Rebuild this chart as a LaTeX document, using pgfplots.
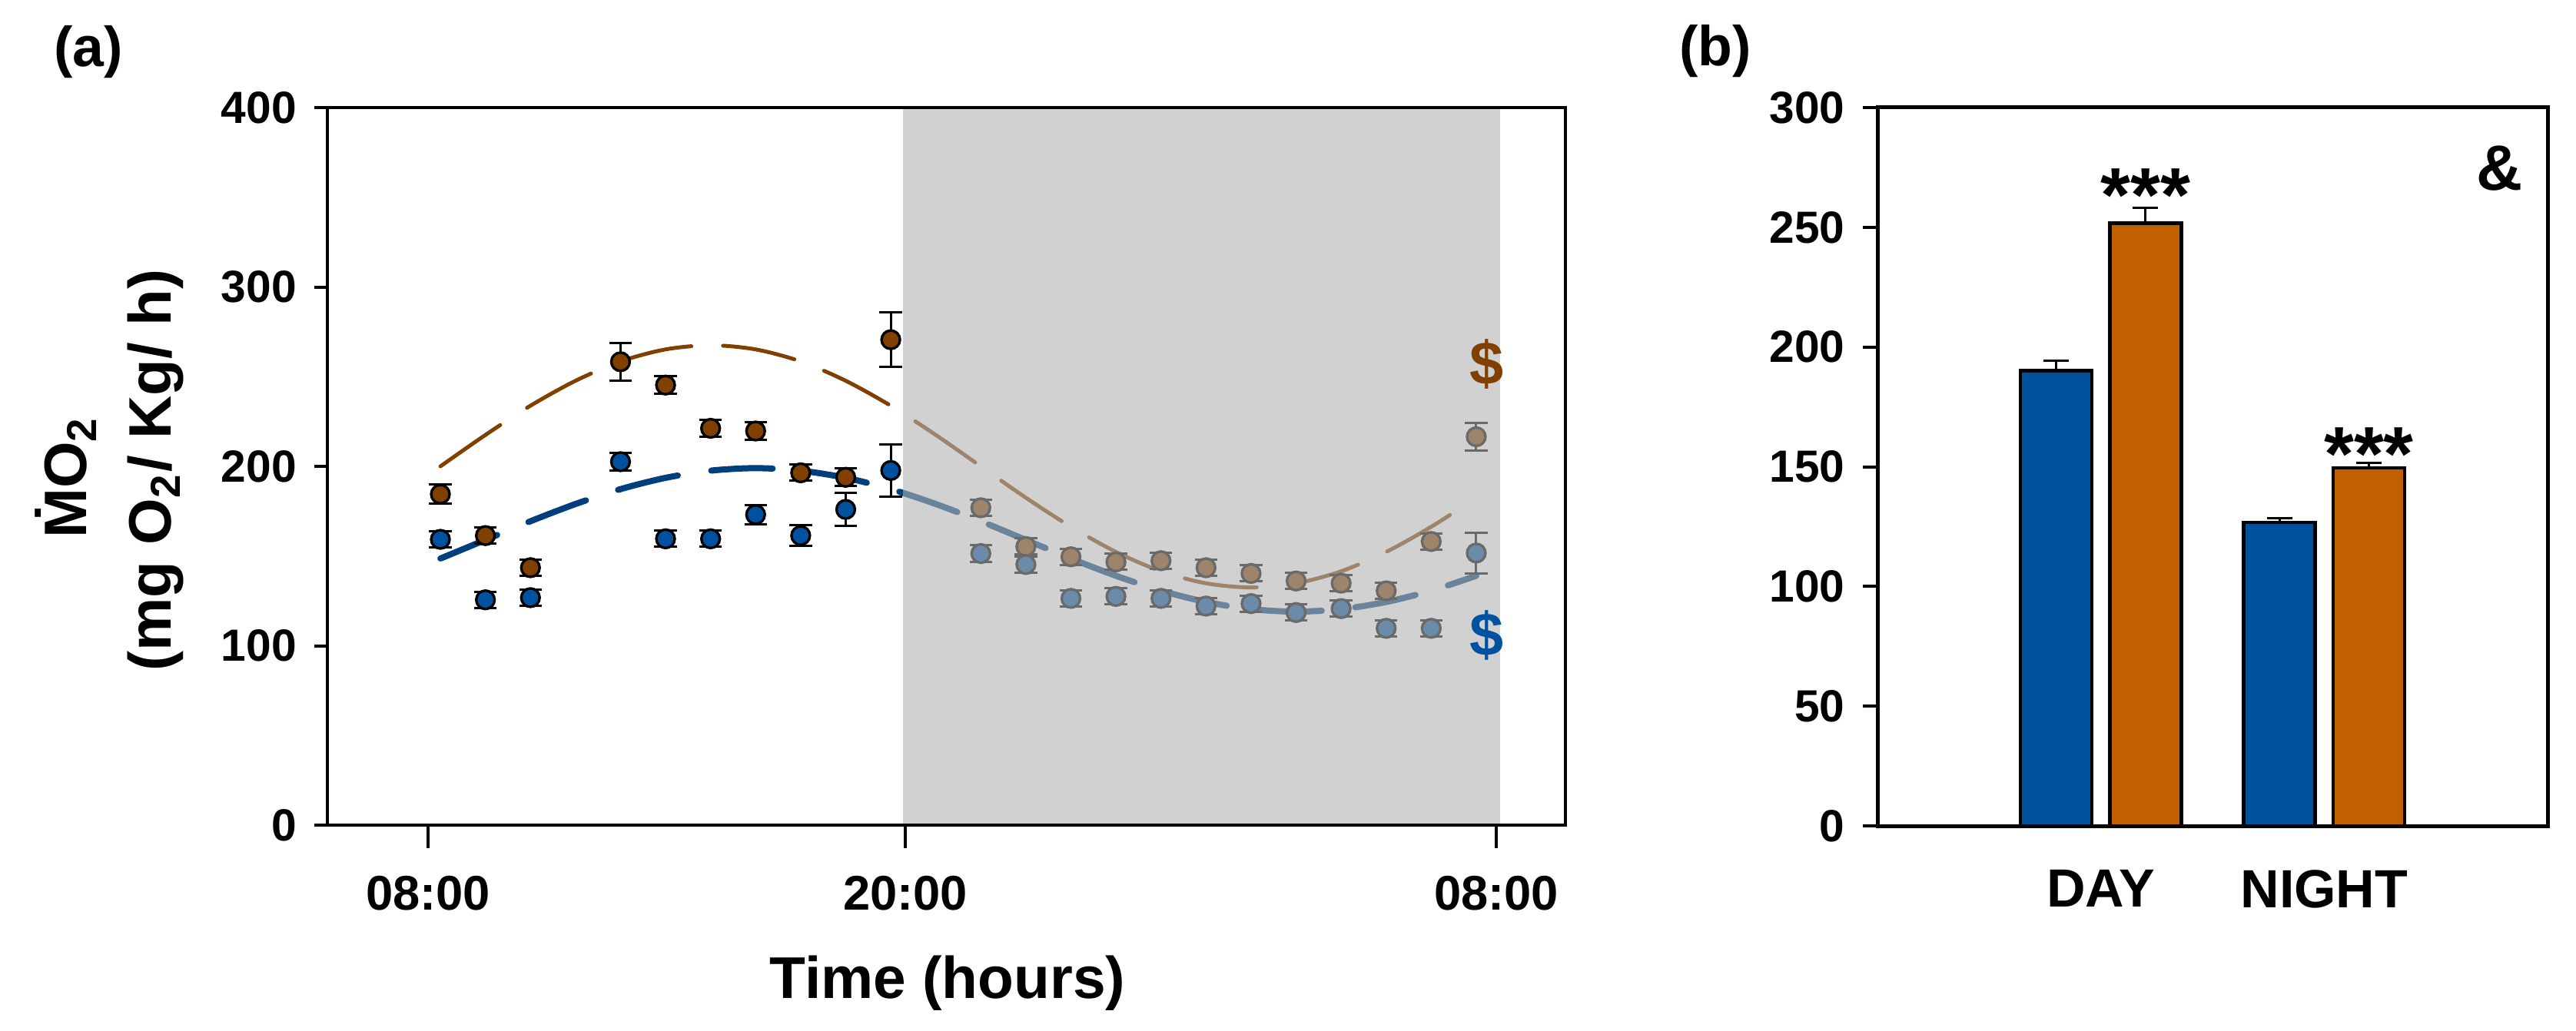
\documentclass[border=0pt]{standalone}
\usepackage{fontspec}
\setmainfont{Liberation Sans}
\usepackage{pgfplots}
\pgfplotsset{compat=1.18}
\usepackage{pgfplotstable}

\definecolor{brownp}{RGB}{128,64,0}
\definecolor{bluep}{RGB}{0,82,160}
\definecolor{bluec}{RGB}{0,63,125}
\definecolor{brownc}{RGB}{128,64,0}
\definecolor{blueb}{RGB}{0,81,158}
\definecolor{orangeb}{RGB}{192,96,0}
\definecolor{shadec}{RGB}{178,178,178}

\pgfplotstableread{
k v e
0 184.5 5.4
1 161.4 4.5
2 143.5 4.5
4 258.3 10.6
5 245.3 5
6 221.2 4.6
7 219.7 5
8 196.4 4.5
9 193.9 5
10 270.6 15.1
12 176.9 4.5
13 155.3 4.5
14 149.6 4.5
15 146.7 4.5
16 147.4 4.5
17 143.5 4.5
18 140.3 4.5
19 136.1 4.5
20 134.9 4.5
21 130.6 4.5
22 158.1 4.5
23 216.5 7.6
}\brownpts

\pgfplotstableread{
k v e
0 159.3 4.5
1 125.6 4.5
2 126.8 4.5
4 202.6 5
5 159.6 4.5
6 159.6 4.5
7 173.1 5.4
8 161.4 5.9
9 176.0 9.2
10 197.7 14.5
12 151.4 4.5
13 145.3 4.5
14 126.4 4.5
15 127.5 4.5
16 126.4 4.5
17 122.1 4.5
18 123.5 4.5
19 118.5 4.5
20 120.7 4.5
21 109.7 4.5
22 109.7 4.5
23 151.7 11.3
}\bluepts

\pgfplotstableread{
k v
0 200
1 217.5
2 233.8
3 247.7
4 258.5
5 265.2
6 267.5
7 265.2
8 258.5
9 247.7
10 233.8
11 217.5
12 200
13 182.5
14 166.3
15 152.3
16 141.5
17 134.8
18 132.5
19 134.8
20 141.5
21 152.3
22 166.3
23 182.5
}\browncurve

\pgfplotstableread{
k v
0 148.6
1 159
2 169.4
3 179
4 187.3
5 193.6
6 197.6
7 199
8 197.6
9 193.6
10 187.3
11 179
12 169.4
13 159
14 148.6
15 139
16 130.7
17 124.4
18 120.4
19 119
20 120.4
21 124.4
22 130.7
23 139
}\bluecurve

\begin{document}
\begin{tikzpicture}
\path[use as bounding box] (0,0) rectangle (502.8pt,201.15pt);

% ---------------- panel (a)
\begin{axis}[
  at={(63.9pt,40.05pt)}, anchor=south west, scale only axis,
  width=241.65pt, height=140.1pt,
  xmin=-2.509, xmax=24.98, ymin=0, ymax=400,
  ytick={0,100,200,300,400},
  xtick={-0.273,10.324,23.447}, xticklabels={08:00,20:00,08:00},
  tick align=outside, tick pos=left,
  major tick length=2.5pt,
  xtick style={/pgfplots/major tick length=4.5pt},
  tick style={black, line width=0.6pt},
  axis line style={line width=0.7pt},
  axis on top, clip marker paths=true,
  every tick label/.append style={font=\fontsize{8.8}{10}\selectfont\bfseries},
  xticklabel style={font=\fontsize{9.5}{10}\selectfont\bfseries, yshift=-3.9pt},
  /pgf/number format/assume math mode=true,
]
\addplot[brownc, line width=0.75pt, smooth, line cap=round, dash pattern=on 14.2pt off 6.2pt] table[x=k,y=v] {\browncurve};
\addplot[bluec, line width=1.2pt, smooth, line cap=round, dash pattern=on 12pt off 6.6pt] table[x=k,y=v] {\bluecurve};
\addplot[only marks, mark=*, mark size=1.8pt, mark options={fill=brownp, draw=black, line width=0.5pt},
  error bars/.cd, y dir=both, y explicit,
  error bar style={black, line width=0.45pt},
  error mark options={rotate=90, mark size=2.2pt, black, line width=0.45pt}]
  table[x=k,y=v,y error=e] {\brownpts};
\addplot[only marks, mark=*, mark size=1.8pt, mark options={fill=bluep, draw=black, line width=0.5pt},
  error bars/.cd, y dir=both, y explicit,
  error bar style={black, line width=0.45pt},
  error mark options={rotate=90, mark size=2.2pt, black, line width=0.45pt}]
  table[x=k,y=v,y error=e] {\bluepts};
\fill[shadec, opacity=0.6] (axis cs:10.27,0) rectangle (axis cs:23.53,400);
\node[text=brownp, font=\fontsize{11.9}{12}\selectfont\bfseries] at (axis cs:23.24,257) {\$};
\node[text=bluep, font=\fontsize{11.9}{12}\selectfont\bfseries] at (axis cs:23.24,106) {\$};
\end{axis}

% ---------------- panel (b)
\begin{axis}[
  at={(366.45pt,39.9pt)}, anchor=south west, scale only axis,
  width=130.8pt, height=140.25pt,
  xmin=0, xmax=3, ymin=0, ymax=300,
  ytick={0,50,100,150,200,250,300},
  xtick={1,2}, xticklabels={DAY,NIGHT},
  tick align=outside, tick pos=left,
  major tick length=2.85pt,
  xtick style={draw=none},
  tick style={black, line width=0.6pt},
  axis line style={line width=0.75pt},
  axis on top, clip=false,
  every tick label/.append style={font=\fontsize{8.8}{10}\selectfont\bfseries},
  xticklabel style={font=\fontsize{10.5}{11}\selectfont\bfseries, yshift=-2.2pt},
  /pgf/number format/assume math mode=true,
]
\addplot[ybar, bar width=0.32, bar shift=0, fill=blueb, draw=black, line width=0.7pt,
  error bars/.cd, y dir=plus, y explicit,
  error bar style={black, line width=0.45pt},
  error mark options={rotate=90, mark size=2.5pt, black, line width=0.45pt}]
  coordinates {(0.8,190.1) +- (0,4.3) (1.8,126.7) +- (0,1.7)};
\addplot[ybar, bar width=0.32, bar shift=0, fill=orangeb, draw=black, line width=0.7pt,
  error bars/.cd, y dir=plus, y explicit,
  error bar style={black, line width=0.45pt},
  error mark options={rotate=90, mark size=2.5pt, black, line width=0.45pt}]
  coordinates {(1.2,251.7) +- (0,6.3) (2.2,149.5) +- (0,2.2)};
\node[anchor=base, font=\fontsize{15}{15}\selectfont\bfseries] at (axis cs:1.2,252.5) {***};
\node[anchor=base, font=\fontsize{15}{15}\selectfont\bfseries] at (axis cs:2.2,144.2) {***};
\node[font=\fontsize{12.5}{13}\selectfont\bfseries] at (axis cs:2.785,274.5) {\&};
\end{axis}

% ---------------- labels
\node[font=\fontsize{11}{12}\selectfont\bfseries] at (17.3pt,190.95pt) {(a)};
\node[font=\fontsize{11}{12}\selectfont\bfseries] at (334.8pt,191.1pt) {(b)};
\node[font=\fontsize{11.5}{12}\selectfont\bfseries] at (184.95pt,9.2pt) {Time (hours)};
\node[rotate=90, anchor=base, font=\fontsize{11.7}{12}\selectfont\bfseries] at (16.95pt,108pt) {\.{M}O\textsubscript{2}};
\node[rotate=90, anchor=base, font=\fontsize{11.7}{12}\selectfont\bfseries] at (33.3pt,109.35pt) {(mg O\textsubscript{2}/ Kg/ h)};
\end{tikzpicture}
\end{document}
